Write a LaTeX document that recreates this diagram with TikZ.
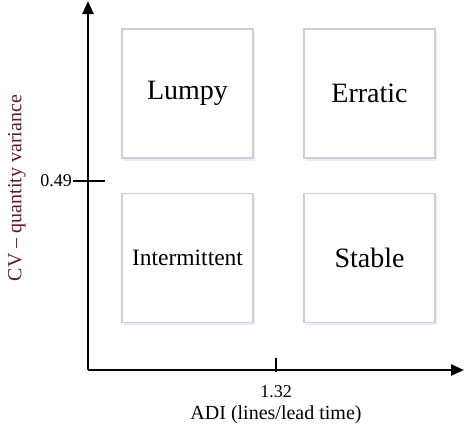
\documentclass[tikz,border=0pt]{standalone}
\usepackage{fontspec}
\setmainfont{Liberation Serif}
\usepackage{xcolor}
\usepackage{tikz}
\usetikzlibrary{arrows.meta}
\usetikzlibrary{positioning, shadows}
\definecolor{cvred}{RGB}{95,25,35}
\definecolor{boxedge}{RGB}{205,207,212}
\definecolor{boxshade}{RGB}{232,238,248}
\tikzset{
quadrant/.style = { rectangle, draw = boxedge, line width = 1.2pt, fill = white, minimum width = 131pt, minimum height = 129pt, inner sep = 0pt, drop shadow = {fill = boxshade, opacity = 1, shadow xshift = 1.5pt, shadow yshift = -2.5pt} },
big label/.style = { font = \fontsize{28}{31}\selectfont },
small label/.style = { font = \fontsize{23.5}{26}\selectfont },
axis/.style = { line width = 2.4pt, -{Triangle[length = 13pt, width = 11pt]} },
tick/.style = { line width = 1.4pt },
tick label/.style = { font = \fontsize{18}{20}\selectfont, inner sep = 1pt },
axis label/.style = { font = \fontsize{20}{22}\selectfont, inner sep = 0pt },
}

\begin{document}
\begin{tikzpicture}[x = 1pt, y = -1pt]
    \useasboundingbox (0, 0) rectangle (465, 439);
    \node[quadrant, big label] (lumpy) at (187.5, 93.5) {Lumpy};
    \node[quadrant, big label] (erratic) at (369.5, 93.5) {Erratic};
    \node[quadrant, small label] (intermittent) at (187.5, 258) {Intermittent};
    \node[quadrant, big label] (stable) at (369.5, 258) {Stable};
    \coordinate (origin) at (88, 370);
    \coordinate (ytip) at (88, 1);
    \coordinate (xtip) at (464, 370);
    \coordinate (cvleft) at (73, 181);
    \coordinate (cvright) at (105, 181);
    \coordinate (aditop) at (276, 358);
    \coordinate (adibottom) at (276, 372);
    \draw[axis] (origin) -- (ytip);
    \draw[axis] (origin) -- (xtip);
    \draw[tick] (cvleft) -- (cvright);
    \draw[tick] (aditop) -- (adibottom);
    \node[tick label, anchor = east] (cvvalue) at (cvleft) {0.49};
    \node[tick label] (adivalue) at (276, 392) {1.32};
    \node[axis label] (adiname) at (276, 415) {ADI (lines/lead time)};
    \node[axis label, cvred, rotate = 90] (cvname) at (17, 188) {CV -- quantity variance};
  \end{tikzpicture}
\end{document}
